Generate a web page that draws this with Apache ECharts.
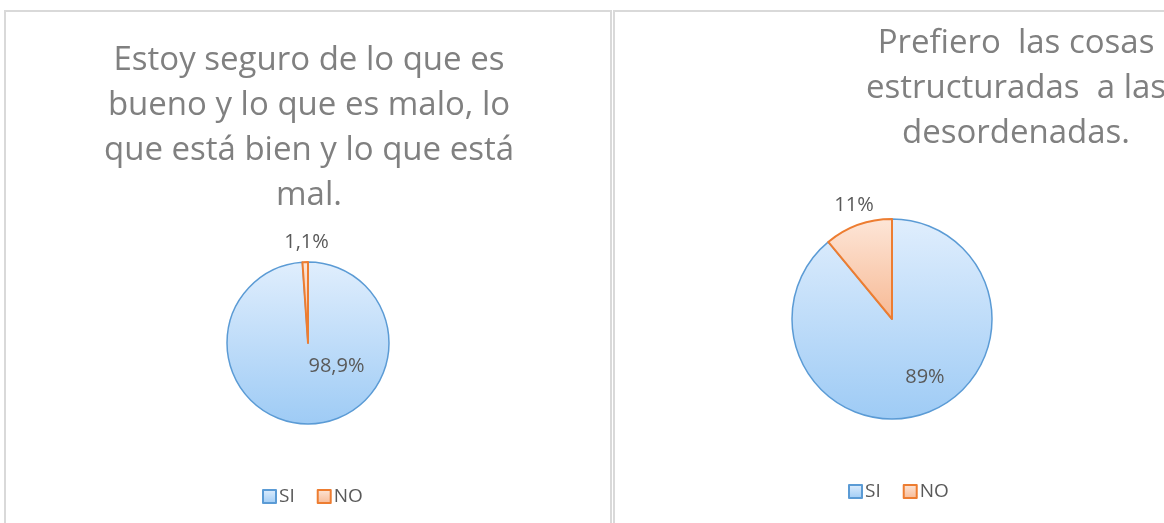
<!DOCTYPE html>
<html>
<head>
<meta charset="utf-8">
<script src="https://cdn.jsdelivr.net/npm/echarts@6/dist/echarts.min.js"></script>
<style>
html,body{margin:0;padding:0;background:#fff;}
#main{width:1164px;height:523px;}
</style>
</head>
<body>
<div id="main"></div>
<script>
// datos de las dos preguntas
var categorias = ['SI', 'NO'];
var valoresSeguro = [98.9, 1.1];
var valoresEstructura = [89, 11];
var tituloSeguro = 'Estoy seguro de lo que es\nbueno y lo que es malo, lo\nque está bien y lo que está\nmal.';
var tituloEstructura = 'Prefiero  las cosas\nestructuradas  a las\ndesordenadas.';

var fuente = '"Open Sans", sans-serif';

function degradado(c1, c2) {
	return new echarts.graphic.LinearGradient(0, 0, 0, 1, [
		{offset: 0, color: c1},
		{offset: 1, color: c2}
	]);
}
var estilos = [
	{color: degradado('#e0eefd', '#9ecbf5'), borderColor: '#5b9bd5', borderWidth: 1.5},
	{color: degradado('#fde6d8', '#f7b994'), borderColor: '#ed7d31', borderWidth: 2}
];

function datosTarta(valores) {
	var out = [];
	for (var i = 0; i < categorias.length; i++) {
		out.push({name: categorias[i], value: valores[i], itemStyle: estilos[i]});
	}
	return out;
}

function etiqueta(p) {
	return String(p.value).replace('.', ',') + '%';
}

// desplazamiento de las etiquetas respecto a la posicion "inside"
function mover(desp) {
	return function(p) {
		return {dx: desp[p.dataIndex][0], dy: desp[p.dataIndex][1]};
	};
}

function tarta(centro, radio, valores, desp) {
	return {
		type: 'pie',
		center: centro,
		radius: radio,
		startAngle: 90,
		clockwise: true,
		silent: true,
		animation: false,
		label: {
			show: true,
			position: 'inside',
			formatter: etiqueta,
			color: '#595959',
			fontSize: 20,
			fontFamily: fuente
		},
		labelLine: {show: false},
		labelLayout: mover(desp),
		data: datosTarta(valores)
	};
}

function leyenda(x, y) {
	return {
		left: x,
		top: y,
		data: categorias,
		icon: 'rect',
		itemWidth: 13,
		itemHeight: 13,
		itemGap: 22,
		textStyle: {color: '#595959', fontSize: 19, fontFamily: fuente, padding: [0, 0, 0, -2]},
		selectedMode: false
	};
}

function titulo(texto, x, y) {
	return {
		text: texto,
		left: x,
		top: y,
		textAlign: 'center',
		textStyle: {
			color: '#808080',
			fontSize: 33,
			fontWeight: 'normal',
			fontFamily: fuente,
			lineHeight: 45
		}
	};
}

var myChart = echarts.init(document.getElementById('main'));
var option = {
	backgroundColor: '#fff',
	graphic: [
		{type: 'rect', z: -10, shape: {x: 5, y: 11, width: 606, height: 540}, style: {fill: '#fff', stroke: '#d9d9d9', lineWidth: 2}},
		{type: 'rect', z: -10, shape: {x: 614, y: 11, width: 620, height: 540}, style: {fill: '#fff', stroke: '#d9d9d9', lineWidth: 2}}
	],
	title: [
		titulo(tituloSeguro, 304, 33),
		titulo(tituloEstructura, 1011, 16)
	],
	legend: [
		leyenda(257, 482),
		leyenda(843, 477)
	],
	series: [
		tarta([308, 343], 81, valoresSeguro, [[27, -20], [0, -57]]),
		tarta([892, 319], 100, valoresEstructura, [[15, 8], [-20, -64]])
	]
};
myChart.setOption(option);
</script>
</body>
</html>
